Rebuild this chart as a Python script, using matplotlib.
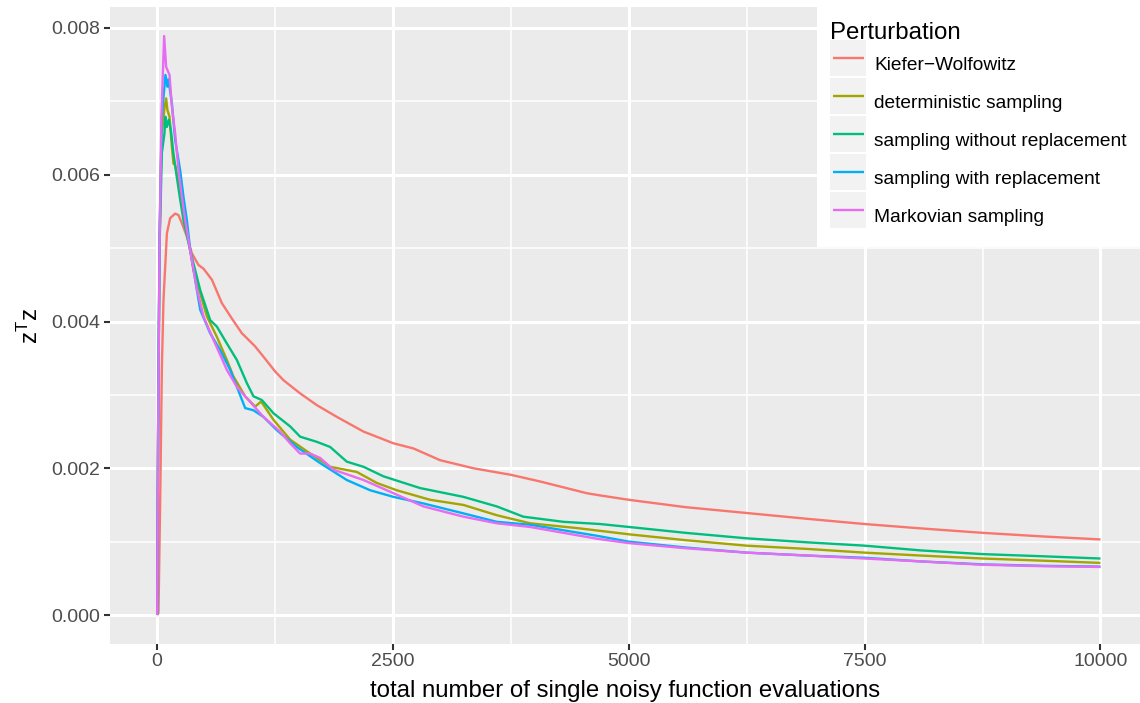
import numpy as np
import matplotlib
matplotlib.use("Agg")
import matplotlib.pyplot as plt
from matplotlib.legend_handler import HandlerLine2D
from matplotlib.patches import Rectangle

# values, z^T z in units of 1e-3
kw_x = [0, 14, 32, 50, 67, 103, 138, 191, 226, 262, 315, 368, 438, 491, 580, 686,
        792, 898, 1039, 1127, 1250, 1339, 1516, 1693, 1905, 2187, 2505, 2717, 2999,
        3352, 3752, 4059, 4554, 4695, 5000, 5600, 6250, 6900, 7500, 8100, 8750, 9400, 10000]
kw_y = [0, 0.03, 1.57, 3.38, 4.29, 5.2, 5.41, 5.47, 5.45, 5.34, 5.16, 4.93, 4.77, 4.72,
        4.57, 4.25, 4.04, 3.84, 3.66, 3.52, 3.32, 3.20, 3.02, 2.86, 2.70, 2.50, 2.34,
        2.27, 2.11, 2.0, 1.91, 1.82, 1.66, 1.63, 1.57, 1.47, 1.39, 1.31, 1.24, 1.18,
        1.12, 1.07, 1.03]

det_x = [0, 10, 25, 45, 77, 95, 109, 131, 156, 173, 191, 226, 279, 385, 527, 633, 739,
         809, 933, 1039, 1102, 1233, 1410, 1622, 1834, 2116, 2328, 2540, 2894, 3247,
         3600, 3953, 4483, 5000, 5600, 6250, 6900, 7500, 8100, 8750, 9400, 10000]
det_y = [0, 2.5, 5.0, 6.5, 6.9, 7.04, 6.88, 6.79, 6.38, 6.15, 6.13, 5.88, 5.52, 4.70,
         4.07, 3.79, 3.475, 3.25, 2.98, 2.84, 2.91, 2.66, 2.39, 2.20, 2.02, 1.95, 1.80,
         1.70, 1.57, 1.50, 1.36, 1.25, 1.18, 1.10, 1.02, 0.945, 0.90, 0.85, 0.81, 0.77,
         0.74, 0.71]

swo_x = [0, 10, 25, 50, 77, 88, 102, 123, 145, 173, 208, 244, 279, 350, 456, 562, 633,
         739, 845, 951, 1021, 1109, 1233, 1410, 1516, 1693, 1834, 2010, 2187, 2399,
         2787, 3247, 3600, 3882, 4306, 4695, 5000, 5600, 6250, 6900, 7500, 8100, 8750,
         9400, 10000]
swo_y = [0, 2.5, 5.0, 6.3, 6.56, 6.79, 6.65, 6.75, 6.61, 6.29, 5.97, 5.66, 5.38, 4.97,
         4.43, 4.02, 3.93, 3.70, 3.475, 3.16, 2.98, 2.93, 2.75, 2.57, 2.43, 2.36, 2.29,
         2.09, 2.02, 1.89, 1.73, 1.61, 1.48, 1.34, 1.27, 1.24, 1.20, 1.12, 1.045, 0.99,
         0.945, 0.88, 0.83, 0.80, 0.77]

sw_x = [0, 10, 25, 50, 88, 109, 120, 156, 191, 244, 279, 315, 350, 456, 562, 668, 774,
        845, 933, 1021, 1127, 1268, 1480, 1728, 2010, 2258, 2505, 2823, 3247, 3600,
        3953, 4660, 5000, 5600, 6250, 6900, 7500, 8100, 8750, 9400, 10000]
sw_y = [0, 2.5, 5.2, 6.8, 7.36, 7.2, 7.3, 6.97, 6.47, 6.06, 5.70, 5.38, 4.98, 4.16,
        3.84, 3.61, 3.34, 3.11, 2.82, 2.79, 2.70, 2.52, 2.29, 2.07, 1.84, 1.70, 1.61,
        1.52, 1.385, 1.27, 1.23, 1.08, 1.0, 0.92, 0.85, 0.81, 0.78, 0.73, 0.69, 0.67,
        0.66]

mk_x = [0, 10, 25, 45, 74, 95, 131, 156, 191, 226, 262, 297, 332, 368, 420, 491, 597,
        739, 845, 933, 1127, 1303, 1410, 1516, 1622, 1728, 1869, 2187, 2505, 2823, 3247,
        3600, 3953, 4660, 5000, 5600, 6250, 6900, 7500, 8100, 8750, 9400, 10000]
mk_y = [0, 2.5, 5.0, 6.8, 7.89, 7.47, 7.36, 6.93, 6.56, 6.06, 5.70, 5.38, 5.11, 4.84,
        4.45, 4.07, 3.75, 3.34, 3.11, 2.98, 2.70, 2.50, 2.34, 2.20, 2.20, 2.14, 1.98,
        1.84, 1.66, 1.48, 1.34, 1.25, 1.20, 1.04, 0.98, 0.91, 0.85, 0.81, 0.77, 0.73,
        0.685, 0.665, 0.655]

labels = ["Kiefer\u2212Wolfowitz", "deterministic sampling",
          "sampling without replacement", "sampling with replacement",
          "Markovian sampling"]
colors = ["#F8766D", "#A3A500", "#00BF7D", "#00B0F6", "#E76BF3"]
series = [(kw_x, kw_y), (det_x, det_y), (swo_x, swo_y), (sw_x, sw_y), (mk_x, mk_y)]

plt.rcParams['font.family'] = ['Liberation Sans', 'DejaVu Sans']


class KeyHandler(HandlerLine2D):
    # grey square behind each legend key, like ggplot
    def create_artists(self, legend, orig_handle, xdescent, ydescent,
                       width, height, fontsize, trans):
        arts = super().create_artists(legend, orig_handle, xdescent, ydescent,
                                      width, height, fontsize, trans)
        yl = (height - ydescent) / 2.0
        bg = Rectangle((-xdescent, yl - height / 2.0), width, height,
                       facecolor="#F2F2F2", edgecolor="none", transform=trans)
        arts[0].set_data([-xdescent + 2, width - xdescent - 2], [yl, yl])
        return [bg] + list(arts)


fig = plt.figure(figsize=(11.4, 7.03), dpi=100)
ax = fig.add_axes([110 / 1140, 1 - 644 / 703, 1 - 110 / 1140, (644 - 7) / 703])
ax.set_facecolor("#EBEBEB")

for (xs, ys), lab, col in zip(series, labels, colors):
    ax.plot(xs, np.array(ys) * 1e-3, color=col, lw=1.7, label=lab,
            solid_capstyle="butt", solid_joinstyle="round")

ax.set_xlim(-500, 10419)
ax.set_ylim(-0.000395, 0.008286)
ax.set_xticks([0, 2500, 5000, 7500, 10000])
ax.set_xticks([1250, 3750, 6250, 8750], minor=True)
ax.set_yticks([0, 0.002, 0.004, 0.006, 0.008])
ax.set_yticks([0.001, 0.003, 0.005, 0.007], minor=True)
ax.set_yticklabels(["0.000", "0.002", "0.004", "0.006", "0.008"])
ax.grid(which="major", color="white", lw=2.2)
ax.grid(which="minor", color="white", lw=1.1)
ax.set_axisbelow(True)
for s in ax.spines.values():
    s.set_visible(False)
ax.tick_params(which="major", length=4.3, width=1.5, color="#333333",
               labelcolor="#4D4D4D", labelsize=14, pad=2.5)
ax.tick_params(which="minor", length=0)

ax.set_xlabel("total number of single noisy function evaluations", fontsize=17.3,
              labelpad=7)
ax.set_ylabel(r"$\mathregular{z^Tz}$", fontsize=17.3, labelpad=6)

leg = ax.legend(handler_map={plt.Line2D: KeyHandler()}, loc="upper right",
                bbox_to_anchor=(1.0, 1.0 - 9 / 703), bbox_transform=fig.transFigure,
                borderaxespad=0, frameon=True, fancybox=False, framealpha=1,
                facecolor="white", edgecolor="none", fontsize=13.8,
                title="Perturbation", title_fontsize=17.3, alignment="left",
                handlelength=1.875, handleheight=2.51, handletextpad=0.4,
                labelspacing=0.1, borderpad=0.7)
for line in leg.get_lines():
    line.set_linewidth(1.7)

# white strip above the legend box so it reaches the top edge
fig.canvas.draw()
bb = leg.get_frame().get_window_extent()
top_strip = Rectangle((bb.x0, bb.y1 - 1), fig.bbox.width - bb.x0, fig.bbox.height - bb.y1 + 2,
                      transform=None, facecolor="white", edgecolor="none", zorder=10)
fig.patches.append(top_strip)

fig.savefig("out.png", dpi=100)
